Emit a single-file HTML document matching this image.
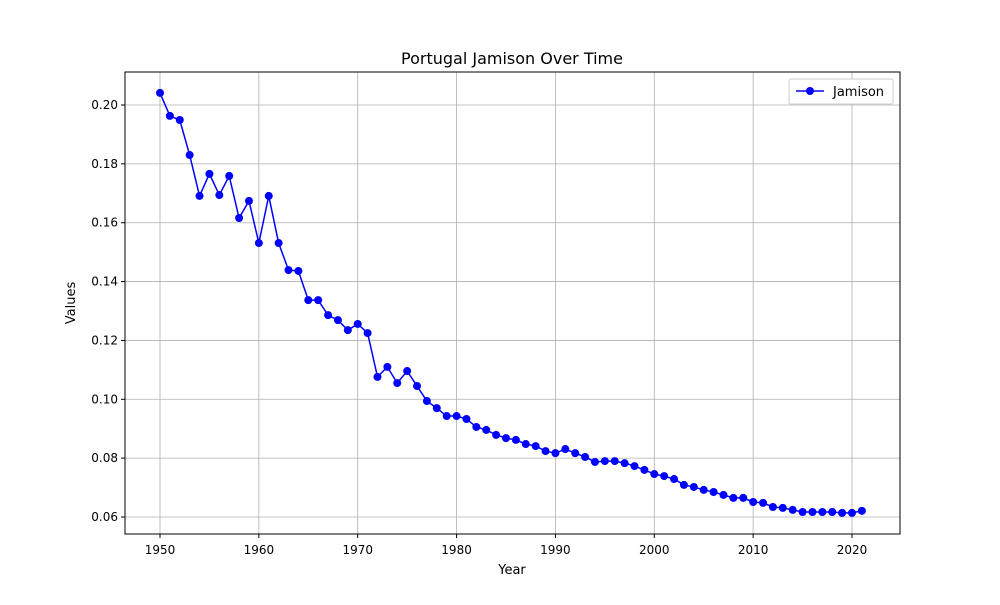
<!DOCTYPE html>
<html><head><meta charset="utf-8"><style>
body{margin:0;background:#fff;}
svg{font-family:"DejaVu Sans","Liberation Sans",sans-serif;}
</style></head><body>
<svg id="chart" width="1000" height="600">
<rect x="0" y="0" width="1000" height="600" fill="#fff"/>
<text x="512" y="64" text-anchor="middle" font-size="16">Portugal Jamison Over Time</text>
<g id="grid"></g>
<g id="xticks"></g>
<g id="yticks"></g>
<g id="series"></g>
<rect x="125" y="72" width="775" height="462" fill="none" stroke="#000" stroke-width="1"/>
<text x="512" y="574" text-anchor="middle" font-size="13">Year</text>
<text transform="translate(75,303) rotate(-90)" text-anchor="middle" font-size="13">Values</text>
<g>
<rect x="789" y="79" width="104" height="25" rx="2" fill="#fff" stroke="#ccc"/>
<line x1="796" y1="91" x2="824" y2="91" stroke="#0000ff" stroke-width="1.5"/>
<circle cx="810" cy="91" r="4" fill="#0000ff"/>
<text x="833" y="96" font-size="13">Jamison</text>
</g>
</svg>
<script>
const years = [];
for (let y = 1950; y <= 2021; y++) years.push(y);
const values = [0.2041,0.1963,0.1949,0.1830,0.1691,0.1766,0.1694,0.1759,0.1616,0.1674,
0.1531,0.1691,0.1531,0.1439,0.1436,0.1337,0.1337,0.1286,0.1269,0.1235,
0.1256,0.1225,0.1076,0.1110,0.1055,0.1096,0.1045,0.0994,0.0970,0.0943,
0.0943,0.0933,0.0906,0.0896,0.0879,0.0868,0.0862,0.0848,0.0841,0.0824,
0.0817,0.0831,0.0817,0.0804,0.0787,0.0790,0.0790,0.0783,0.0773,0.0760,
0.0746,0.0739,0.0729,0.0709,0.0702,0.0692,0.0685,0.0675,0.0665,0.0665,
0.0651,0.0648,0.0634,0.0631,0.0624,0.0617,0.0617,0.0617,0.0617,0.0614,
0.0614,0.0621];
const xTicks = [1950,1960,1970,1980,1990,2000,2010,2020];
const yTicks = [0.06,0.08,0.10,0.12,0.14,0.16,0.18,0.20];
const NS = "http://www.w3.org/2000/svg";
function xs(v){ return 160 + (v - 1950) * (692 / 70); }
function ys(v){ return 517 - (v - 0.06) * (412 / 0.14); }
function mk(tag, attrs, parent){ const e = document.createElementNS(NS, tag); for (const k in attrs) e.setAttribute(k, attrs[k]); parent.appendChild(e); return e; }
const grid = document.getElementById('grid');
const xg = document.getElementById('xticks');
const yg = document.getElementById('yticks');
const sg = document.getElementById('series');
xTicks.forEach(t => {
  const x = xs(t);
  const gl = mk('line', {x1:x, x2:x, y1:72, y2:534, stroke:'#b0b0b0', 'stroke-width':0.8}, grid);
  
  
  mk('line', {x1:x, x2:x, y1:534, y2:538, stroke:'#000'}, xg);
  const tx = mk('text', {x:x, y:554, 'text-anchor':'middle', 'font-size':12}, xg);
  tx.textContent = t;
  
  
});
yTicks.forEach(t => {
  const y = ys(t);
  const gl = mk('line', {x1:125, x2:900, y1:y, y2:y, stroke:'#b0b0b0', 'stroke-width':0.8}, grid);
  
  
  mk('line', {x1:121, x2:125, y1:y, y2:y, stroke:'#000'}, yg);
  const tx = mk('text', {x:118, y:y+4, 'text-anchor':'end', 'font-size':12}, yg);
  tx.textContent = t.toFixed(2);
  
  
});
const pts = years.map((y, i) => xs(y) + ',' + ys(values[i])).join(' ');
const line = mk('polyline', {points:pts, fill:'none', stroke:'#0000ff', 'stroke-width':1.5}, sg);


years.forEach((y, i) => {
  const c = mk('circle', {cx:xs(y), cy:ys(values[i]), r:4, fill:'#0000ff'}, sg);
  
  
});
</script>
</body></html>
